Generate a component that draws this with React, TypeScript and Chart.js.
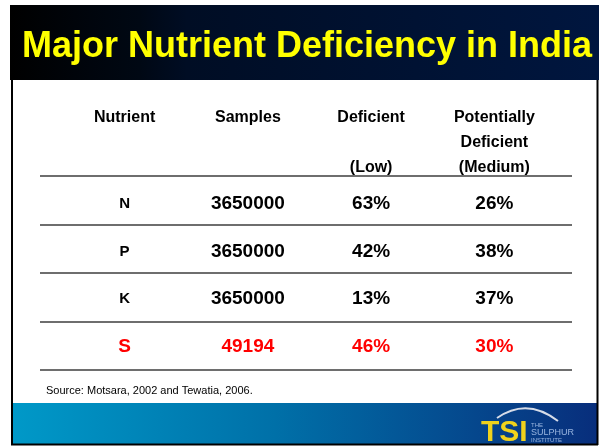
import React, { useEffect, useRef } from "react";
import { Chart, registerables } from "chart.js";

Chart.register(...registerables);

// ---- data ----
const titleText = "Major Nutrient Deficiency in India";
const columnKeys = ["Nutrient", "Samples", "Deficient", "Potentially"];
const columnHeaders = [
  ["Nutrient", "", ""],
  ["Samples", "", ""],
  ["Deficient", "", "(Low)"],
  ["Potentially", "Deficient", "(Medium)"],
];
const nutrients = ["N", "P", "K", "S"];
const samples = [3650000, 3650000, 3650000, 49194];
const deficientLow = [63, 42, 13, 46];
const potentiallyDeficient = [26, 38, 37, 30];
const highlightRow = "S";
const sourceText = "Source: Motsara, 2002 and Tewatia, 2006.";

const FONT = '"Liberation Sans", Arial, Helvetica, sans-serif';

function cellText(col: number, row: number): string {
  if (col === 0) return nutrients[row];
  if (col === 1) return String(samples[row]);
  if (col === 2) return deficientLow[row] + "%";
  return potentiallyDeficient[row] + "%";
}

const slidePlugin = {
  id: "slidePlugin",
  beforeDraw(chart: any) {
    const ctx = chart.ctx as CanvasRenderingContext2D;
    const W = chart.width;
    const H = chart.height;
    ctx.save();
    ctx.fillStyle = "#ffffff";
    ctx.fillRect(0, 0, W, H);

    // header band
    const hg = ctx.createLinearGradient(10, 0, 599, 0);
    hg.addColorStop(0, "#000000");
    hg.addColorStop(0.22, "#000814");
    hg.addColorStop(0.3, "#000d24");
    hg.addColorStop(1, "#00163f");
    ctx.fillStyle = hg;
    ctx.fillRect(10, 5, 589, 75);

    // footer band
    const fg = ctx.createLinearGradient(12, 0, 597, 0);
    fg.addColorStop(0, "#0099c8");
    fg.addColorStop(0.45, "#0070a8");
    fg.addColorStop(1, "#082e7c");
    ctx.fillStyle = fg;
    ctx.fillRect(12, 403, 585, 41);

    // frame
    ctx.strokeStyle = "#000000";
    ctx.lineWidth = 2;
    ctx.beginPath();
    ctx.moveTo(12, 80);
    ctx.lineTo(12, 445);
    ctx.moveTo(11, 444.5);
    ctx.lineTo(598, 444.5);
    ctx.moveTo(597.5, 80);
    ctx.lineTo(597.5, 445);
    ctx.stroke();

    // title
    ctx.fillStyle = "#ffff00";
    ctx.font = `bold 36px ${FONT}`;
    ctx.textAlign = "left";
    ctx.textBaseline = "alphabetic";
    ctx.fillText(titleText, 22, 57);

    // source
    ctx.fillStyle = "#000000";
    ctx.font = `11px ${FONT}`;
    ctx.fillText(sourceText, 46, 394);

    // logo
    ctx.strokeStyle = "#d6dce8";
    ctx.lineWidth = 2;
    ctx.beginPath();
    ctx.moveTo(497, 418);
    ctx.quadraticCurveTo(527, 397, 558, 421);
    ctx.stroke();
    ctx.fillStyle = "#f0d21c";
    ctx.font = `bold 30px ${FONT}`;
    ctx.fillText("TSI", 481, 441);
    ctx.fillStyle = "#9ab6e0";
    ctx.font = `6px ${FONT}`;
    ctx.fillText("THE", 531, 427);
    ctx.font = `9px ${FONT}`;
    ctx.fillText("SULPHUR", 531, 435);
    ctx.font = `6px ${FONT}`;
    ctx.fillText("INSTITUTE", 531, 442);
    ctx.restore();
  },
  afterDatasetsDraw(chart: any) {
    const ctx = chart.ctx as CanvasRenderingContext2D;
    const xs = chart.scales.x;
    const ys = chart.scales.y;
    ctx.save();

    // horizontal rules at row boundaries
    const step = ys.getPixelForValue(1) - ys.getPixelForValue(0);
    const y0 = ys.getPixelForValue(0);
    ctx.strokeStyle = "#6e6e6e";
    ctx.lineWidth = 2;
    for (let k = 0; k <= nutrients.length; k++) {
      const y = Math.round(y0 + (k - 0.5) * step);
      ctx.beginPath();
      ctx.moveTo(40, y);
      ctx.lineTo(572, y);
      ctx.stroke();
    }

    // header labels
    const topRule = y0 - 0.5 * step;
    ctx.fillStyle = "#000000";
    ctx.font = `bold 16px ${FONT}`;
    ctx.textAlign = "center";
    ctx.textBaseline = "middle";
    columnHeaders.forEach((lines, ci) => {
      const x = xs.getPixelForValue(ci);
      lines.forEach((ln, li) => {
        if (ln) ctx.fillText(ln, x, topRule - 58 + li * 25);
      });
    });

    // cells
    chart.data.datasets.forEach((ds: any, ci: number) => {
      const meta = chart.getDatasetMeta(ci);
      meta.data.forEach((pt: any, ri: number) => {
        const isHi = nutrients[ri] === highlightRow;
        ctx.fillStyle = isHi ? "#ff0000" : "#000000";
        const size = ci === 0 && !isHi ? 15 : 19;
        ctx.font = `bold ${size}px ${FONT}`;
        ctx.fillText(cellText(ci, ri), pt.x, pt.y + 4 - ri);
      });
    });
    ctx.restore();
  },
};

export default function App() {
  const ref = useRef<HTMLCanvasElement | null>(null);
  useEffect(() => {
    if (!ref.current) return;
    const datasets = columnKeys.map((key) => ({
      label: key,
      data: nutrients.map((n) => ({ x: key, y: n })),
      showLine: false,
      pointRadius: 0,
      pointHoverRadius: 0,
    }));
    const chart = new Chart(ref.current, {
      type: "line",
      data: { labels: columnKeys, datasets },
      options: {
        animation: false,
        responsive: false,
        devicePixelRatio: 1,
        events: [],
        layout: { padding: { left: 63, right: 44, top: 176, bottom: 77 } },
        plugins: { legend: { display: false }, tooltip: { enabled: false }, title: { display: false } },
        scales: {
          x: { type: "category", labels: columnKeys, offset: true, display: false },
          y: { type: "category", labels: nutrients, offset: true, display: false },
        },
      },
      plugins: [slidePlugin],
    } as any);
    return () => chart.destroy();
  }, []);
  return (
    <div style={{ position: "fixed", left: 0, top: 0, width: 600, height: 447 }}>
      <canvas ref={ref} width={600} height={447} style={{ display: "block", width: 600, height: 447 }} />
    </div>
  );
}
